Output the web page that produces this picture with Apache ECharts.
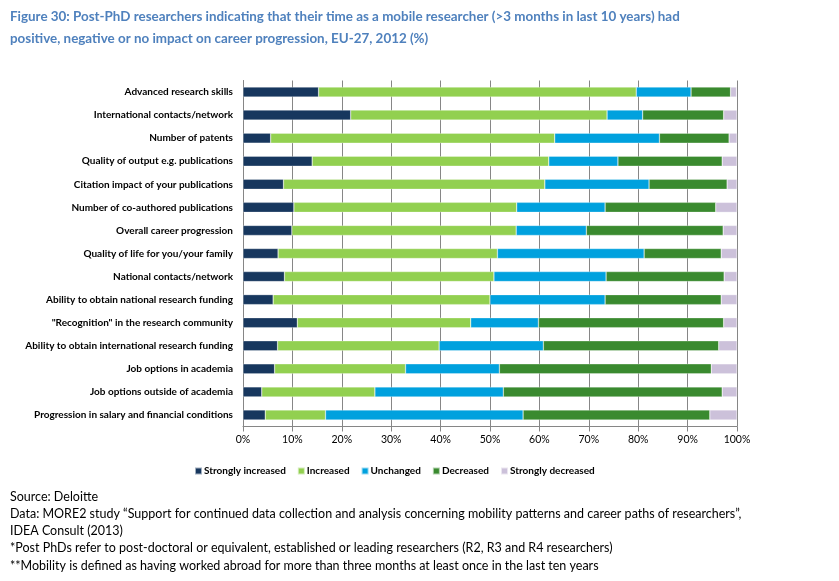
<!DOCTYPE html>
<html>
<head>
<meta charset="utf-8">
<script src="https://cdn.jsdelivr.net/npm/echarts@6/dist/echarts.min.js"></script>
<style>html,body{margin:0;padding:0;background:#fff}#c{width:839px;height:581px}</style>
</head>
<body>
<div id="c"></div>
<script>
const categories = [
  "Advanced research skills",
  "International contacts/network",
  "Number of patents",
  "Quality of output e.g. publications",
  "Citation impact of your publications",
  "Number of co-authored publications",
  "Overall career progression",
  "Quality of life for you/your family",
  "National contacts/network",
  "Ability to obtain national research funding",
  "\"Recognition\" in the research community",
  "Ability to obtain international research funding",
  "Job options in academia",
  "Job options outside of academia",
  "Progression in salary and financial conditions"
];
const stronglyIncreased = [15.3, 21.8, 5.6, 14.0, 8.2, 10.3, 9.9, 7.1, 8.4, 6.1, 11.0, 7.0, 6.4, 3.8, 4.5];
const increased         = [64.3, 51.9, 57.5, 47.9, 52.9, 45.1, 45.4, 44.4, 42.4, 43.9, 35.1, 32.7, 26.5, 22.9, 12.2];
const unchanged         = [11.1, 7.2, 21.2, 14.0, 21.1, 17.9, 14.2, 29.7, 22.7, 23.3, 13.7, 21.1, 19.0, 26.0, 40.0];
const decreased         = [8.0, 16.4, 14.1, 21.1, 15.8, 22.4, 27.7, 15.6, 23.9, 23.5, 37.5, 35.5, 42.9, 44.3, 37.8];
const stronglyDecreased = [1.2, 2.7, 1.6, 3.0, 2.0, 4.3, 2.8, 3.2, 2.6, 3.2, 2.7, 3.7, 5.2, 3.0, 5.5];
const seriesNames = ["Strongly increased", "Increased", "Unchanged", "Decreased", "Strongly decreased"];
const xTicks = [0, 10, 20, 30, 40, 50, 60, 70, 80, 90, 100];

const titleLines = [
  "Figure 30: Post-PhD researchers indicating that their time as a mobile researcher (>3 months in last 10 years) had",
  "positive, negative or no impact on career progression, EU-27, 2012 (%)"
];
const footerLines = [
  "Source: Deloitte",
  "Data: MORE2 study \u201cSupport for continued data collection and analysis concerning mobility patterns and career paths of researchers\u201d,",
  "IDEA Consult (2013)",
  "*Post PhDs refer to post-doctoral or equivalent, established or leading researchers (R2, R3 and R4 researchers)",
  "**Mobility is defined as having worked abroad for more than three months at least once in the last ten years"
];

const FONT = "'Lato', sans-serif";
const colors = ["#17375E", "#92D050", "#00A1DE", "#3A8A2F", "#CCC1DA"];
const allData = [stronglyIncreased, increased, unchanged, decreased, stronglyDecreased];

const chart = echarts.init(document.getElementById('c'), null, {renderer: 'canvas'});

const graphics = [];
titleLines.forEach((t, i) => graphics.push({
  type: 'text', left: 10, top: 10 + i * 22,
  style: {text: t, fill: '#4F81BD', font: "bold 13.4px " + FONT}
}));
footerLines.forEach((t, i) => graphics.push({
  type: 'text', left: 10, top: 490 + i * 17.25,
  style: {text: t, fill: '#000', font: "12.5px " + FONT}
}));

chart.setOption({
  animation: false,
  color: colors,
  textStyle: {fontFamily: FONT},
  grid: {left: 243, right: 102, top: 80.5, bottom: 154.5, containLabel: false},
  legend: {
    data: seriesNames, left: 189, top: 461, itemWidth: 7, itemHeight: 7, itemGap: 11,
    icon: 'rect',
    textStyle: {fontSize: 10, fontWeight: 'bold', color: '#000', fontFamily: FONT, padding: [0,0,0,-3]}
  },
  xAxis: {
    type: 'value', min: 0, max: 100, interval: 10,
    axisLabel: {formatter: v => v + '%', fontSize: 10.5, color: '#000', margin: 8, fontFamily: FONT},
    axisLine: {show: true, lineStyle: {color: '#868686'}},
    axisTick: {show: true, length: 5, lineStyle: {color: '#868686'}},
    splitLine: {show: true, lineStyle: {color: '#868686', width: 1}}
  },
  yAxis: {
    type: 'category', data: categories, inverse: true,
    axisLabel: {fontSize: 10, fontWeight: 'bold', color: '#000', margin: 10, fontFamily: FONT},
    axisLine: {show: true, lineStyle: {color: '#868686'}},
    axisTick: {show: false}
  },
  series: seriesNames.map((n, i) => ({
    name: n, type: 'bar', stack: 'total', data: allData[i], barWidth: 10,
    itemStyle: {color: colors[i], borderColor: 'rgba(255,255,255,0.6)', borderWidth: 0.5}
  })),
  graphic: graphics
});
</script>
</body>
</html>
